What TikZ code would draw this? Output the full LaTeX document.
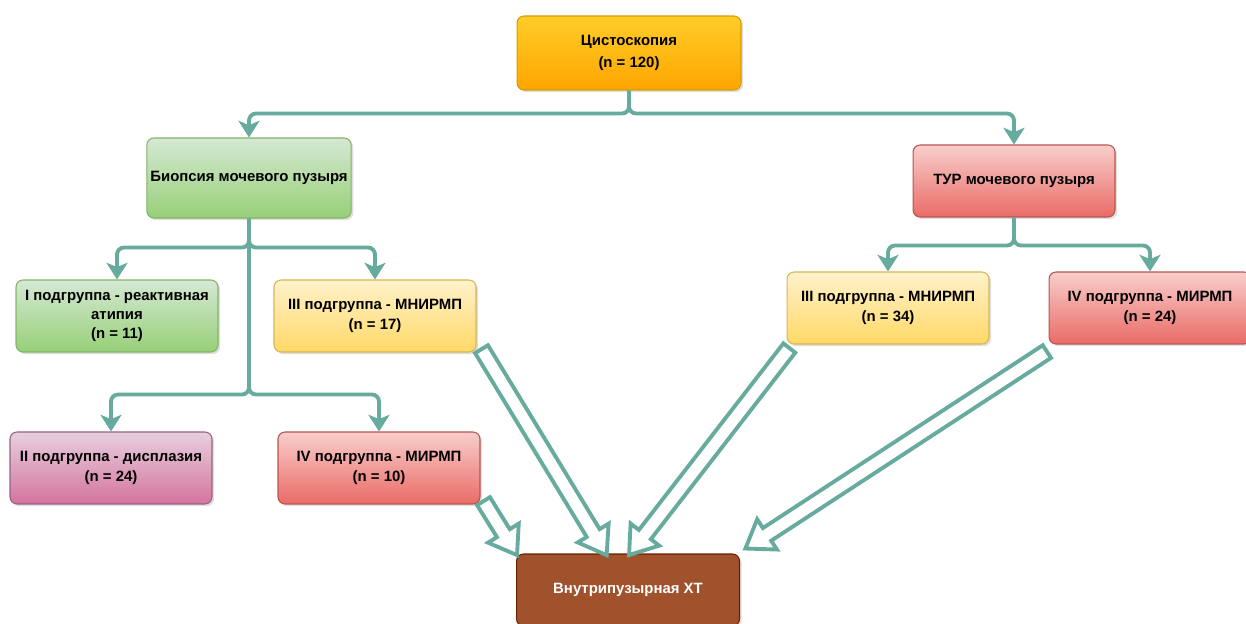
\documentclass[tikz,border=0pt]{standalone}
\usepackage{fontspec}
\setmainfont{Liberation Sans}
\usetikzlibrary{arrows.meta,calc,shapes.arrows,shadows}
\definecolor{linkc}{HTML}{67AB9F}
\definecolor{orangetop}{HTML}{FFCD28}
\definecolor{orangebot}{HTML}{FFA500}
\definecolor{orangeline}{HTML}{D79B00}
\definecolor{greentop}{HTML}{D5E8D4}
\definecolor{greenbot}{HTML}{97D077}
\definecolor{greenline}{HTML}{82B366}
\definecolor{redtop}{HTML}{F8CECC}
\definecolor{redbot}{HTML}{EA6B66}
\definecolor{redline}{HTML}{B85450}
\definecolor{yellowtop}{HTML}{FFF2CC}
\definecolor{yellowbot}{HTML}{FFD966}
\definecolor{yellowline}{HTML}{D6B656}
\definecolor{purpletop}{HTML}{E6D0DE}
\definecolor{purplebot}{HTML}{D5739D}
\definecolor{purpleline}{HTML}{996185}
\definecolor{brownfill}{HTML}{A0522D}
\definecolor{brownline}{HTML}{6D1F00}
\tikzset{
  box/.style        = {draw, rounded corners=4pt, line width=0.6pt, align=center,
                       minimum width=40.4mm, minimum height=14.4mm, inner sep=2pt,
                       font=\fontsize{8.5}{11}\selectfont\bfseries,
                       drop shadow={shadow xshift=1.2pt, shadow yshift=-1.2pt,
                                    opacity=0.25}},
  orangebox/.style  = {box, draw=orangeline, top color=orangetop, bottom color=orangebot},
  greenbox/.style   = {box, draw=greenline, top color=greentop, bottom color=greenbot},
  redbox/.style     = {box, draw=redline, top color=redtop, bottom color=redbot},
  yellowbox/.style  = {box, draw=yellowline, top color=yellowtop, bottom color=yellowbot},
  purplebox/.style  = {box, draw=purpleline, top color=purpletop, bottom color=purplebot},
  brownbox/.style   = {box, draw=brownline, fill=brownfill, text=white},
  conn/.style       = {draw=linkc, line width=2.2pt, rounded corners=4pt,
                       -{Stealth[length=9.5pt,width=12pt,inset=2.5pt]}},
  fatarrow/.style   = {single arrow, draw=linkc, line width=2.2pt, fill=white,
                       inner xsep=0pt, inner ysep=3.2pt, anchor=tail,
                       single arrow head extend=6pt, single arrow tip angle=70},
}
\newcommand{\fatlink}[2]{%
  \path let \p1=($(#2)-(#1)$), \n1={veclen(\x1,\y1)}, \n2={atan2(\y1,\x1)} in
    node[fatarrow, minimum height=\n1, rotate=\n2] at (#1) {};}

\begin{document}
\begin{tikzpicture}[x=0.02cm,y=-0.02cm]
\useasboundingbox (0,0) rectangle (1246,624);

\node[orangebox, minimum width=44.8mm, minimum height=14.8mm,
      font=\fontsize{8.5}{12.5}\selectfont\bfseries] (cysto) at (629,53)
  {Цистоскопия\\(n = 120)};
\node[greenbox, minimum height=16mm] (biop) at (249,178) {Биопсия мочевого пузыря};
\node[redbox] (tur) at (1014,181) {ТУР мочевого пузыря};

\node[greenbox] (g1) at (117,316) {I подгруппа - реактивная\\атипия\\(n = 11)};
\node[yellowbox] (g3a) at (375,316) {III подгруппа - МНИРМП\\(n = 17)};
\node[yellowbox] (g3b) at (888,308) {III подгруппа - МНИРМП\\(n = 34)};
\node[redbox] (g4b) at (1150,308) {IV подгруппа - МИРМП\\(n = 24)};
\node[purplebox] (g2) at (111,468) {II подгруппа - дисплазия\\(n = 24)};
\node[redbox] (g4a) at (379,468) {IV подгруппа - МИРМП\\(n = 10)};

\node[brownbox, minimum width=44.6mm] (xt) at (628,590) {Внутрипузырная ХТ};

% tree links
\draw[conn] (cysto.south) -- ++(0,23) -| (biop.north);
\draw[conn] (cysto.south) -- ++(0,23) -| (tur.north);
\draw[conn] (biop.south) -- ++(0,29) -| (g1.north);
\draw[conn] (biop.south) -- ++(0,29) -| (g3a.north);
\draw[conn] (biop.south) -- ++(0,176) -| (g2.north);
\draw[conn] (biop.south) -- ++(0,176) -| (g4a.north);
\draw[conn] (tur.south) -- ++(0,28) -| (g3b.north);
\draw[conn] (tur.south) -- ++(0,28) -| (g4b.north);

% hollow arrows to the therapy box
\coordinate (t1) at ($(xt.north west)!0.4!(xt.north east)$);
\coordinate (t2) at (xt.north west);
\coordinate (t3) at ($(xt.north west)!0.51!(xt.north east)$);
\coordinate (t4) at ($(xt.north east)+(7,-6)$);
\fatlink{$(g3a.south east)+(4,-5)$}{t1}
\fatlink{$(g4a.south east)+(2,-5)$}{t2}
\fatlink{$(g3b.south west)+(4,2)$}{t3}
\fatlink{$(g4b.south west)+(0,6)$}{t4}
\end{tikzpicture}
\end{document}
